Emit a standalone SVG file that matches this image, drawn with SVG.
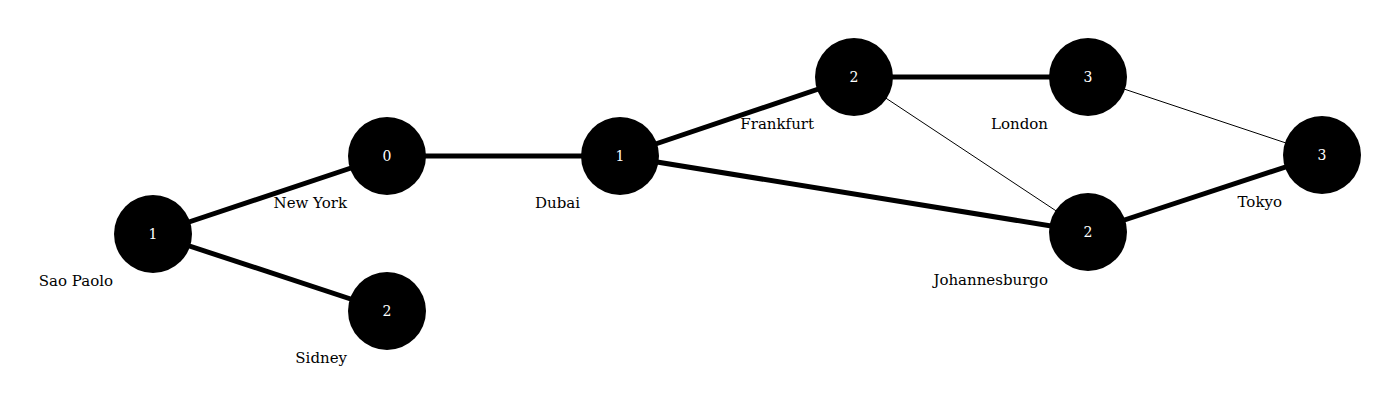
<svg xmlns="http://www.w3.org/2000/svg" width="1400" height="406" viewBox="0 0 1400 406">
<style>
.node circle{fill:#000}
.num{fill:#fff;font-family:"DejaVu Serif",serif;font-size:14px;text-anchor:middle}
.lbl{fill:#000;font-family:"DejaVu Serif",serif;font-size:15px;text-anchor:end}
.thick{stroke:#000;stroke-width:5;fill:none}
.thin{stroke:#000;stroke-width:1;fill:none}
</style>
<rect width="1400" height="406" fill="#fff"/>
<g id="edges">
<line class="thick" x1="153" y1="234" x2="387" y2="156"/>
<line class="thick" x1="153" y1="234" x2="387" y2="311"/>
<line class="thick" x1="387" y1="156" x2="620" y2="156"/>
<line class="thick" x1="620" y1="156" x2="854" y2="77"/>
<line class="thick" x1="620" y1="156" x2="1088" y2="232"/>
<line class="thick" x1="854" y1="77" x2="1088" y2="77"/>
<line class="thick" x1="1088" y1="232" x2="1322" y2="155"/>
<line class="thin" x1="854" y1="77" x2="1088" y2="232"/>
<line class="thin" x1="1088" y1="77" x2="1322" y2="155"/>
</g>
<g id="saopaolo" class="node"><circle cx="153" cy="234" r="39"/><text class="num" x="153" y="239">1</text><text class="lbl" x="113" y="286">Sao Paolo</text></g>
<g id="newyork" class="node"><circle cx="387" cy="156" r="39"/><text class="num" x="387" y="161">0</text><text class="lbl" x="347" y="208">New York</text></g>
<g id="sidney" class="node"><circle cx="387" cy="311" r="39"/><text class="num" x="387" y="316">2</text><text class="lbl" x="347" y="363">Sidney</text></g>
<g id="dubai" class="node"><circle cx="620" cy="156" r="39"/><text class="num" x="620" y="161">1</text><text class="lbl" x="580" y="208">Dubai</text></g>
<g id="frankfurt" class="node"><circle cx="854" cy="77" r="39"/><text class="num" x="854" y="82">2</text><text class="lbl" x="814" y="129">Frankfurt</text></g>
<g id="london" class="node"><circle cx="1088" cy="77" r="39"/><text class="num" x="1088" y="82">3</text><text class="lbl" x="1048" y="129">London</text></g>
<g id="johannesburgo" class="node"><circle cx="1088" cy="232" r="39"/><text class="num" x="1088" y="237">2</text><text class="lbl" x="1048" y="285">Johannesburgo</text></g>
<g id="tokyo" class="node"><circle cx="1322" cy="155" r="39"/><text class="num" x="1322" y="160">3</text><text class="lbl" x="1282" y="207">Tokyo</text></g>
</svg>
